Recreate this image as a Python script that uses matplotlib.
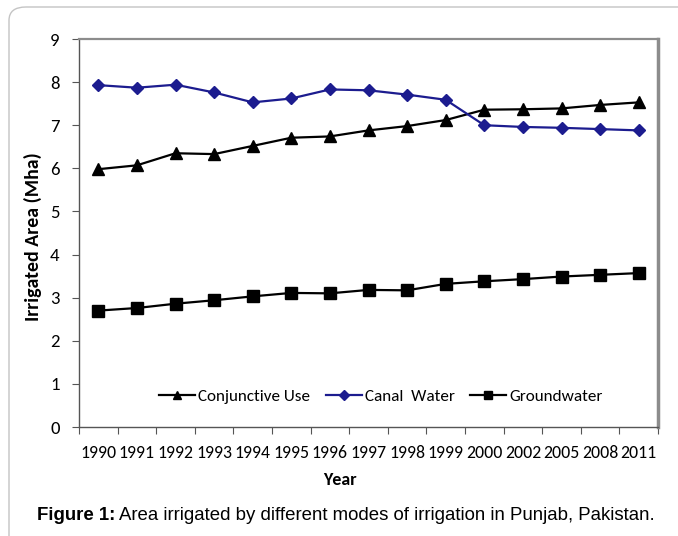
import matplotlib
matplotlib.use("Agg")
import matplotlib.pyplot as plt
from matplotlib.patches import FancyBboxPatch

years = ["1990", "1991", "1992", "1993", "1994", "1995", "1996", "1997",
         "1998", "1999", "2000", "2002", "2005", "2008", "2011"]
conjunctive = [5.98, 6.07, 6.35, 6.33, 6.52, 6.71, 6.74, 6.88, 6.98, 7.12,
               7.36, 7.37, 7.39, 7.47, 7.53]
canal = [7.93, 7.87, 7.94, 7.76, 7.53, 7.62, 7.83, 7.81, 7.71, 7.59,
         7.00, 6.96, 6.94, 6.91, 6.88]
groundwater = [2.70, 2.76, 2.86, 2.94, 3.03, 3.11, 3.10, 3.18, 3.17, 3.32,
               3.38, 3.43, 3.49, 3.53, 3.57]
y_ticks = [0, 1, 2, 3, 4, 5, 6, 7, 8, 9]

W, H = 678, 536
fig = plt.figure(figsize=(W / 100, H / 100), dpi=100)
fig.patch.set_facecolor("white")

# outer frame (rounded, cropped at right/bottom)
frame = FancyBboxPatch((9 / W, -0.05), 1.2, (H - 7) / H + 0.05,
                       boxstyle="round,pad=0,rounding_size=0.025",
                       transform=fig.transFigure, fill=False,
                       edgecolor="#c4c4c4", linewidth=1.0, zorder=0)
fig.patches.append(frame)

L, R, T, B = 79, 658, 39, 427
ax = fig.add_axes([L / W, (H - B) / H, (R - L) / W, (B - T) / H])

tick_font = "Carlito"
x = list(range(len(years)))
ax.plot(x, conjunctive, color="black", lw=1.6, marker="^", ms=8.5,
        label="Conjunctive Use", zorder=3)
ax.plot(x, canal, color="#1c1c8f", lw=1.6, marker="D", ms=6.5,
        label="Canal  Water", zorder=3)
ax.plot(x, groundwater, color="black", lw=1.6, marker="s", ms=8,
        label="Groundwater", zorder=3)

ax.set_xlim(-0.5, len(years) - 0.5)
ax.set_ylim(0, 9)
ax.set_yticks(y_ticks)
ax.set_yticklabels([str(v) for v in y_ticks], fontfamily=tick_font, fontsize=13.5)
ax.set_xticks(x)
ax.set_xticklabels(years, fontfamily=tick_font, fontsize=12.8)
ax.set_xticks([i - 0.5 for i in range(len(years) + 1)], minor=True)
ax.tick_params(axis="x", which="major", length=0, pad=13)
ax.tick_params(axis="x", which="minor", length=5, width=0.8, color="#555555", direction="out")
ax.tick_params(axis="y", length=5, width=0.8, color="#555555", direction="out", pad=9)

for s in ["top", "right"]:
    ax.spines[s].set_color("#8c8c8c")
    ax.spines[s].set_linewidth(1.6)
ax.spines["right"].set_linewidth(2.5)
for s in ["left", "bottom"]:
    ax.spines[s].set_color("#555555")
    ax.spines[s].set_linewidth(1.0)

fig.text(33 / W, 1 - 237 / H, "Irrigated Area (Mha)", fontfamily=tick_font,
         fontweight="bold", fontsize=14.2, rotation=90, ha="center", va="center")
fig.text(340 / W, 1 - 480 / H, "Year", fontfamily=tick_font, fontweight="bold",
         fontsize=13, ha="center", va="center")

leg = ax.legend(loc="center", bbox_to_anchor=(381 / W, 1 - 397 / H),
                bbox_transform=fig.transFigure, ncol=3, frameon=False,
                prop={"family": tick_font, "size": 12.3}, handlelength=2.1,
                handletextpad=0.2, columnspacing=0.9, markerscale=0.75)

# caption: bold part + normal part
fig.canvas.draw()
renderer = fig.canvas.get_renderer()
cap_y = 1 - 516 / H
t1 = fig.text(37 / W, cap_y, "Figure 1:", fontfamily="Liberation Sans",
              fontweight="bold", fontsize=13.4, ha="left", va="center")
bb = t1.get_window_extent(renderer)
fig.text((bb.x1 + 4) / W, cap_y,
         "Area irrigated by different modes of irrigation in Punjab, Pakistan.",
         fontfamily="Liberation Sans", fontsize=13.4, ha="left", va="center")

fig.savefig("out.png", dpi=100)
